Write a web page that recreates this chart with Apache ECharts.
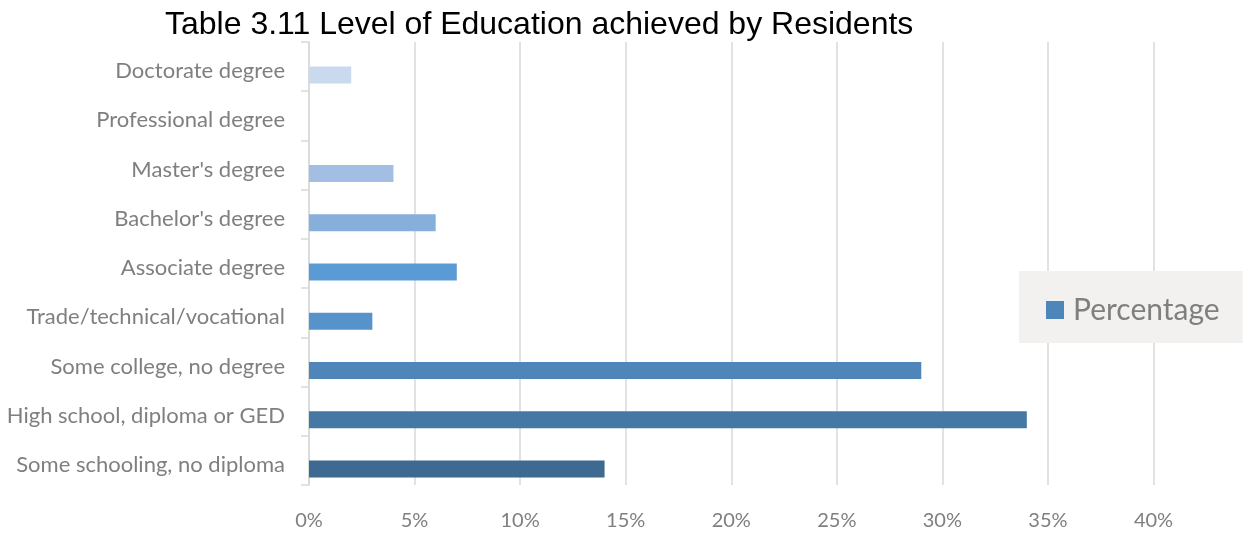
<!DOCTYPE html>
<html><head><meta charset="utf-8">
<script src="https://cdn.jsdelivr.net/npm/echarts@6/dist/echarts.min.js"></script>
<style>html,body{margin:0;padding:0;background:#fff}#c{width:1246px;height:533px}</style>
</head><body><div id="c"></div>
<script>
const categories = ["Some schooling, no diploma","High school, diploma or GED","Some college, no degree","Trade/technical/vocational","Associate degree","Bachelor's degree","Master's degree","Professional degree","Doctorate degree"];
const percentage = [14, 34, 29, 3, 7, 6, 4, 0, 2];
const barColors = ["#3E6990","#4678A6","#4E86BA","#5593CA","#5B9BD5","#86AFDC","#A3BEE3","#B9CDE9","#C9D9EE"];
const xTicks = [0,5,10,15,20,25,30,35,40];

const chart = echarts.init(document.getElementById('c'));
chart.setOption({
  animation: false,
  title: {
    text: 'Table 3.11 Level of Education achieved by Residents',
    left: 160, top: 4,
    textStyle: {fontFamily: 'Liberation Sans, Arial', fontSize: 32, fontWeight: 'normal', color: '#000'}
  },
  legend: {
    data: ['Percentage'],
    left: 1019, top: 271,
    backgroundColor: '#F2F1F0',
    padding: [24, 23, 18, 27],
    icon: 'rect', itemWidth: 18, itemHeight: 18,
    textStyle: {fontFamily: 'Lato', fontSize: 30, color: '#7F7F7F', lineHeight: 22, padding: [6, 0, 0, 4]},
    itemStyle: {color: '#4E86BA'}
  },
  grid: {left: 309, right: 92.5, top: 42, bottom: 48, containLabel: false, outerBoundsMode: 'none'},
  xAxis: {
    type: 'value', min: 0, max: 40, interval: 5,
    axisLine: {show: false}, axisTick: {show: false},
    splitLine: {lineStyle: {color: '#D9D9D9', width: 1.5}},
    axisLabel: {formatter: v => xTicks.includes(v) ? v + '%' : '', fontFamily: 'Lato', fontSize: 20, color: '#7F7F7F', margin: 26}
  },
  yAxis: {
    type: 'category', data: categories,
    axisLine: {show: true, lineStyle: {color: '#D9D9D9', width: 1.5}},
    axisTick: {show: true, length: 8, lineStyle: {color: '#D9D9D9', width: 1.5}},
    axisLabel: {
      margin: 24,
      formatter: v => '{a|' + v + '}',
      rich: {a: {fontFamily: 'Lato', fontSize: 22, color: '#7F7F7F', padding: [9, 0, 0, 0]}}
    }
  },
  series: [
    {name: 'spacer', type: 'bar', data: categories.map(() => null), barWidth: 17, barGap: 0, silent: true},
    {name: 'Percentage', type: 'bar', barWidth: 17, barGap: 0,
     itemStyle: {color: '#4E86BA'},
     data: percentage.map((v, i) => ({value: v, itemStyle: {color: barColors[i]}}))}
  ]
});
</script></body></html>
